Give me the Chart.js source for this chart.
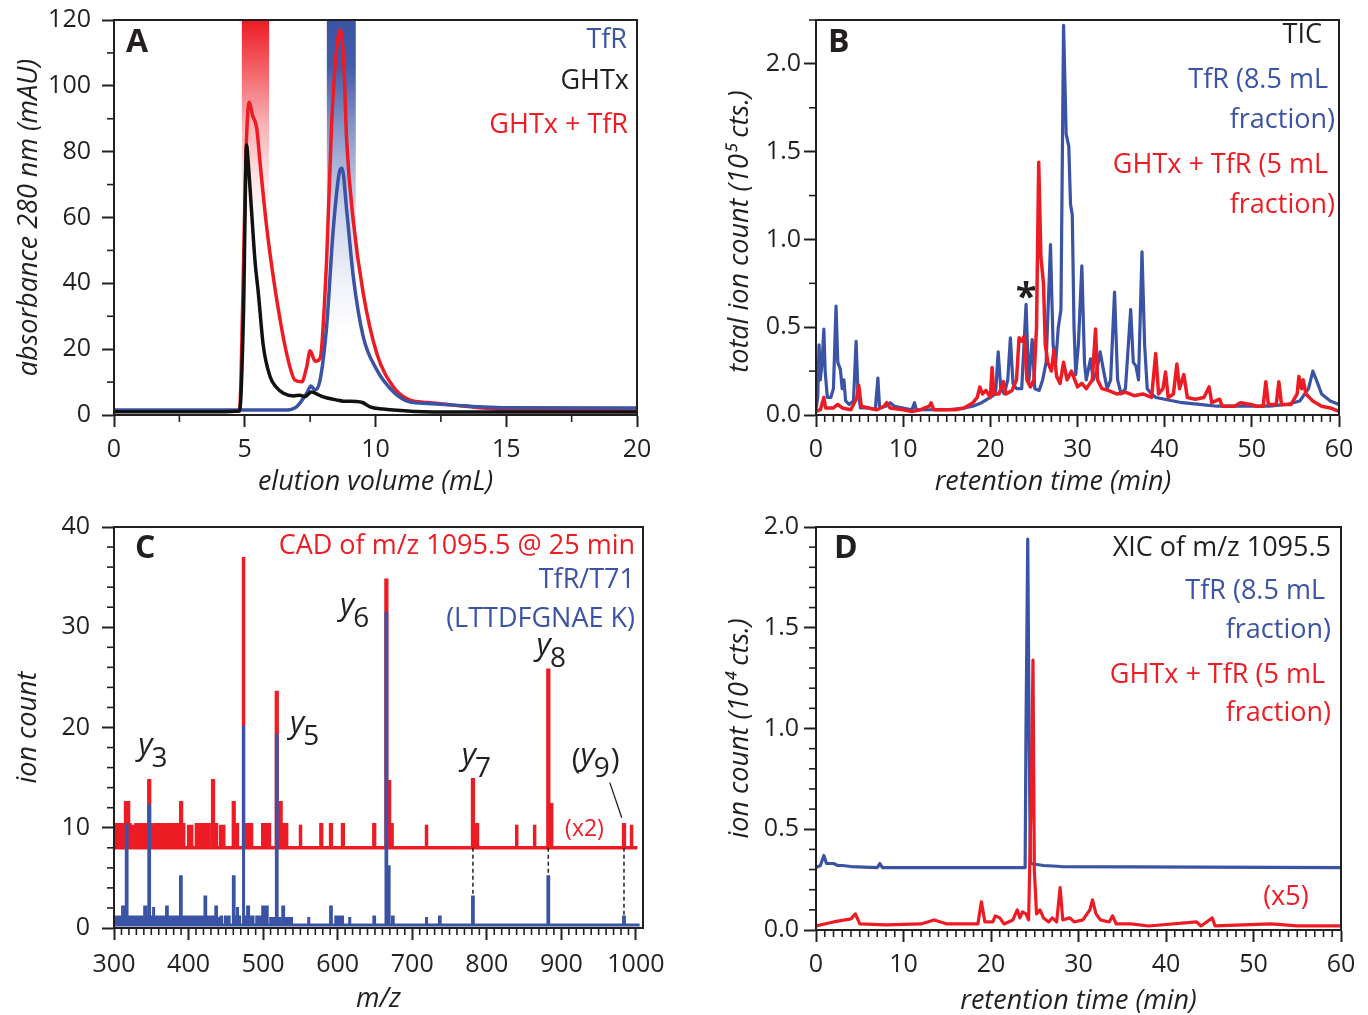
<!DOCTYPE html>
<html>
<head>
<meta charset="utf-8">
<script src="https://cdn.jsdelivr.net/npm/chart.js@4.4.1/dist/chart.umd.min.js"></script>
<style>
  html, body { margin:0; padding:0; background:#fff; }
  #fig { position:relative; width:1368px; height:1015px; overflow:hidden; background:#fff; }
  canvas { position:absolute; }
</style>
</head>
<body>
<div id="fig">
  <canvas id="cA" width="684" height="505" style="left:0;top:0"></canvas>
  <canvas id="cB" width="684" height="505" style="left:684px;top:0"></canvas>
  <canvas id="cC" width="684" height="510" style="left:0;top:505px"></canvas>
  <canvas id="cD" width="684" height="510" style="left:684px;top:505px"></canvas>
</div>
<script>
// ================= DATA =================
// ---- Panel A: elution profiles (x: elution volume mL, y: absorbance 280 nm mAU)
const elutionTicks = [0, 5, 10, 15, 20];
const absorbanceTicks = [0, 20, 40, 60, 80, 100, 120];
const ghtxUV = [[0,1.0],[4.0,1.0],[4.8,1.2],[4.95,30],[5.07,82],[5.13,77],[5.26,62],[5.39,47],[5.52,37],[5.71,21],[5.97,11.6],[6.2,8.5],[6.48,6.6],[6.86,5.8],[7.1,6.0],[7.3,5.6],[7.55,7.0],[7.8,6.2],[8.0,5.5],[8.5,4.6],[8.77,4.2],[9.27,4.1],[9.5,3.8],[9.79,2.5],[10.3,1.8],[10.68,1.5],[11.5,1.1],[13,0.9],[20,0.9]];
const tfrUV = [[0,1.5],[6.5,1.5],[6.98,2.5],[7.37,6.6],[7.53,8.8],[7.69,7.6],[7.88,10.6],[8.13,26.8],[8.39,57],[8.64,74.4],[8.72,75],[8.9,62],[9.15,42],[9.53,23.8],[10.05,13.7],[10.68,7.1],[11.3,4.0],[12,3.5],[13,3.0],[14,2.5],[15,2.2],[20,2.1]];
const mixUV = [[0,1.2],[4.8,1.2],[4.93,37],[5.05,80],[5.17,95],[5.3,91],[5.46,87],[5.58,77],[5.84,57],[6.09,42],[6.35,29],[6.6,18.7],[6.92,10.6],[7.18,10.1],[7.37,14.7],[7.5,19.5],[7.69,16.3],[7.88,17.2],[8.13,47],[8.32,88],[8.5,110],[8.65,117],[8.78,108],[8.9,83],[9.15,59],[9.53,37],[10.05,18.7],[10.68,8.6],[11.3,4.6],[12,3.8],[13,3.0],[14,2.2],[15,1.7],[17,1.4],[20,1.2]];
const mixFraction = [4.88, 5.94];   // collected GHTx + TfR fraction (mL)
const tfrFraction = [8.13, 9.25];   // collected TfR fraction (mL)

// ---- Panel B: total ion chromatograms (x: min, y: 10^5 counts)
const timeTicks = [0, 10, 20, 30, 40, 50, 60];
const ticTicks = [0, 0.5, 1.0, 1.5, 2.0];
const tfrTIC = [[0,0.03],[0.2,0.1],[0.35,0.4],[0.5,0.2],[0.7,0.3],[0.9,0.49],[1.05,0.25],[1.3,0.1],[1.7,0.1],[2.0,0.15],[2.3,0.62],[2.5,0.3],[2.8,0.26],[3.0,0.15],[3.2,0.2],[3.4,0.08],[3.8,0.06],[4.3,0.08],[4.6,0.42],[4.8,0.15],[5.1,0.04],[6,0.04],[6.8,0.03],[7.1,0.21],[7.3,0.04],[8.0,0.05],[8.5,0.07],[9.0,0.05],[10,0.04],[11,0.03],[11.3,0.07],[11.5,0.03],[13,0.03],[15,0.03],[17,0.04],[18,0.05],[19,0.07],[20,0.1],[20.6,0.12],[20.9,0.36],[21.2,0.15],[21.6,0.12],[22.0,0.2],[22.3,0.44],[22.6,0.18],[23.0,0.15],[23.6,0.15],[24.1,0.63],[24.4,0.18],[24.8,0.43],[25.1,0.15],[25.6,0.14],[26.0,0.2],[26.4,0.3],[26.9,0.97],[27.2,0.4],[27.5,0.3],[27.8,0.5],[28.1,0.6],[28.4,2.22],[28.7,1.6],[29.0,1.53],[29.2,1.2],[29.4,1.14],[29.6,0.5],[29.8,0.23],[30.1,0.4],[30.5,0.85],[30.8,0.3],[31.0,0.2],[31.5,0.32],[31.8,0.2],[32.2,0.25],[32.6,0.36],[33.0,0.25],[33.4,0.15],[33.8,0.2],[34.25,0.70],[34.6,0.2],[35.0,0.12],[35.5,0.15],[36.1,0.60],[36.4,0.3],[36.7,0.28],[37.0,0.2],[37.4,0.93],[37.7,0.4],[38.0,0.15],[38.5,0.12],[39,0.1],[40,0.09],[41,0.08],[42,0.07],[44,0.06],[46,0.05],[48,0.05],[50,0.05],[52,0.05],[54,0.06],[55.5,0.08],[56.5,0.15],[57.0,0.25],[57.4,0.2],[58,0.12],[59,0.08],[60,0.06]];
const mixTIC = [[0,0.02],[0.5,0.03],[0.9,0.1],[1.1,0.04],[2.0,0.04],[2.5,0.06],[3,0.04],[4,0.03],[4.7,0.1],[4.9,0.17],[5.2,0.05],[6,0.04],[7,0.03],[7.8,0.05],[8.1,0.07],[8.5,0.04],[10,0.03],[11,0.02],[12,0.03],[13,0.05],[13.2,0.07],[13.5,0.03],[15,0.03],[16,0.03],[17,0.04],[18.0,0.07],[18.5,0.1],[18.8,0.16],[19.1,0.12],[19.5,0.14],[20.0,0.1],[20.2,0.27],[20.4,0.12],[21.0,0.12],[21.5,0.19],[21.8,0.12],[22.5,0.14],[23.0,0.2],[23.3,0.44],[23.6,0.42],[23.9,0.45],[24.2,0.2],[24.6,0.16],[25.0,0.2],[25.3,0.5],[25.55,1.44],[25.8,0.9],[26.1,0.75],[26.3,0.4],[26.6,0.3],[27.0,0.25],[27.3,0.37],[27.6,0.22],[28.0,0.18],[28.4,0.3],[28.8,0.2],[29.3,0.25],[30,0.16],[30.5,0.18],[31,0.15],[31.7,0.2],[32.07,0.49],[32.3,0.2],[32.8,0.15],[33.5,0.14],[34.5,0.12],[35.5,0.13],[36.5,0.11],[37.5,0.12],[38.5,0.1],[38.97,0.35],[39.3,0.12],[39.8,0.15],[40.1,0.245],[40.4,0.1],[41.0,0.12],[41.4,0.29],[41.7,0.15],[42.2,0.23],[42.6,0.1],[43.5,0.09],[44.5,0.1],[45.1,0.16],[45.4,0.07],[46.3,0.09],[46.6,0.05],[48,0.05],[48.7,0.07],[49.9,0.06],[50.5,0.05],[51.3,0.05],[51.6,0.19],[51.9,0.06],[52.8,0.06],[53.1,0.19],[53.4,0.06],[54.5,0.06],[55.2,0.12],[55.4,0.22],[55.7,0.15],[55.9,0.2],[56.2,0.12],[57,0.08],[58,0.05],[59,0.04],[60,0.02]];
const starredPeak = [24.1, 0.6];     // "*" marker position (min, 10^5 cts)

// ---- Panel C: CAD spectra (x: m/z, y: ion count)
const mzTicks = [300, 400, 500, 600, 700, 800, 900, 1000];
const ionTicks = [0, 10, 20, 30, 40];
const mixOffset = 8;     // GHTx + TfR spectrum (x2) baseline
const tfrOffset = 0.3;   // TfR/T71 spectrum baseline
const mixSpectrum = [[300.8,10.3],[304,10.3],[308,10.3],[312,10.3],[316,12.5],[319,12.5],[321,10.3],[326,10.3],[330,10.3],[333,10.3],[336,10.3],[339,10.3],[342,10.3],[347.2,14.7],[350,10.3],[353,10.3],[356,10.3],[359,10.3],[362,10.3],[366,10.3],[369,10.3],[372,10.3],[376,10.3],[379,10.3],[383,10.3],[386,10.3],[390,12.5],[393,10.3],[400,10.3],[404,10.3],[411,10.3],[415,10.3],[419,10.3],[423,10.3],[427,10.3],[432.8,14.7],[437,10.3],[443,10.3],[447,10.3],[460.6,12.5],[465,10.3],[473.6,37.0],[476,10.3],[481,10.3],[484,10.3],[500,10.3],[504,10.3],[508,10.3],[518.3,23.5],[523.5,12.5],[527,10.3],[531,10.3],[550,10.3],[578,10.3],[591,10.3],[607,10.3],[649,10.3],[665.3,34.7],[669,14.6],[672.5,10.3],[719,10.3],[781.4,14.8],[787,10.3],[840,10.3],[864,10.3],[882.5,25.7],[886.5,12.3],[984,10.3],[994,10.3]];
const tfrSpectrum = [[301,1.1],[305,1.1],[309,1.1],[312,2.1],[317,10.3],[320.5,1.1],[324,1.1],[328,1.1],[332,1.1],[336,1.1],[340,1.1],[342,2.1],[344,1.1],[347.2,12.2],[350,1.1],[353,2.1],[356,1.1],[360,1.1],[364,1.1],[368,1.1],[371,2.1],[374,1.1],[378,1.1],[382,1.1],[386,1.1],[389.7,5.1],[394,1.1],[398,1.1],[402,1.1],[406,1.1],[410,1.1],[414,1.1],[418,1.1],[422.5,3.1],[426,1.1],[430,1.1],[434,1.1],[437,2.1],[440,1.1],[444,1.1],[450,1.1],[454,1.1],[460.6,5.1],[464,1.1],[465.5,2.1],[468,1.1],[473.6,20.2],[478,1.1],[480,2.1],[482,1.1],[486,1.1],[492,1.1],[496,1.1],[500,2.1],[505,2.1],[510,1.1],[514,1.1],[518.3,19.2],[522,1.1],[526,1.1],[527,2.1],[530,1.1],[534,1.1],[538,1.1],[561,1.1],[591,2.1],[598,1.1],[602,1.1],[606,1.1],[616,1.1],[649,1.1],[665.3,31.4],[668.5,6.1],[674,1.1],[719,1.1],[737,1.1],[781.4,3.1],[882.5,5.1],[984,1.1]];
const matchedMz = [781.4, 882.5, 984];   // y7, y8, y9 matched between spectra
const matchedTfr = [3.1, 5.1, 1.1];
const ionNames = ['3', '5', '6', '7', '8', '9'];
const ionLabelAt = [[332.6,17.3],[536,19.5],[603,31.2],[766.3,16.3],[866.8,27.2],[913.8,16.3]];
const ionParen = [false, false, false, false, false, true];
const y9Leader = [[965,14.5],[981,11.0]];
const x2LabelAt = [931, 9.8];

// ---- Panel D: extracted ion chromatograms (x: min, y: 10^4 counts)
const xicTicks = [0, 0.5, 1.0, 1.5, 2.0];
const tfrXIC = [[0,0.31],[0.5,0.32],[0.9,0.37],[1.2,0.33],[2,0.33],[2.5,0.32],[3,0.32],[4,0.315],[7,0.31],[7.3,0.33],[7.6,0.31],[10,0.31],[23.9,0.31],[24.0,1.0],[24.2,1.94],[24.35,1.0],[24.5,0.33],[26,0.32],[28,0.315],[60,0.31]];
const mixXIC = [[0,0.02],[2,0.04],[4,0.055],[4.5,0.08],[5,0.03],[8,0.025],[12,0.03],[13.5,0.05],[15,0.03],[18.5,0.03],[18.9,0.14],[19.3,0.04],[20.2,0.04],[20.5,0.07],[21.0,0.06],[21.5,0.03],[22.5,0.05],[23.0,0.1],[23.3,0.06],[23.6,0.09],[24.0,0.08],[24.3,0.05],[24.65,0.8],[24.8,1.34],[24.95,0.3],[25.2,0.08],[25.6,0.1],[26,0.06],[26.6,0.04],[27,0.06],[27.5,0.04],[27.9,0.21],[28.2,0.05],[29,0.06],[29.5,0.04],[30.5,0.05],[31.3,0.1],[31.6,0.15],[32.0,0.08],[32.5,0.05],[33.5,0.04],[33.9,0.07],[34.3,0.03],[36,0.03],[38,0.02],[43.5,0.04],[44,0.02],[45.3,0.06],[45.6,0.02],[52,0.03],[55,0.02],[60,0.02]];
const x5LabelAt = [53.7, 0.164];

// ================= RENDERING =================
const FONT = "'Open Sans', 'Noto Sans', sans-serif";
Chart.defaults.font.family = FONT;
Chart.defaults.color = '#231f20';
const RED = '#ed1c24', BLUE = '#3a53a4', INK = '#231f20';

const pts = arr => arr.map(([x, y]) => ({x, y}));

function sticks(spec, base, from, to, half) {
  const s = spec.slice().sort((a, b) => a[0] - b[0]);
  const out = [{x: from, y: base}];
  s.forEach(([m, h]) => {
    out.push({x: m - half, y: base}, {x: m - half, y: h}, {x: m + half, y: h}, {x: m + half, y: base});
  });
  out.push({x: to, y: base});
  return out;
}

function axis(o) {
  const left = o.pos === 'left';
  return {
    type: 'linear', position: o.pos, min: o.min, max: o.max,
    afterBuildTicks: s => { s.ticks = o.ticks.map(v => ({value: v})); },
    afterFit: s => { if (left) s.width = o.size; else s.height = o.size; },
    ticks: { font: {size: 25, lineHeight: left ? 0.5 : 1.2}, color: INK, padding: o.tpad, autoSkip: false, maxRotation: 0,
             callback: o.fmt || (v => String(v)) },
    grid: { drawOnChartArea: false, drawTicks: true, tickLength: 12, tickWidth: 2, tickColor: INK },
    border: { display: true, color: INK, width: 2 },
    title: { display: true, text: o.title, color: INK, font: {size: 27, style: 'italic'},
             padding: left ? {top: o.titlePad, bottom: 0} : {top: 0, bottom: o.titlePad} }
  };
}

function framePlugin(minor) {
  return {
    id: 'frame',
    afterDraw(chart) {
      const {ctx, chartArea: a} = chart;
      const sx = chart.scales.x, sy = chart.scales.y;
      ctx.save();
      ctx.strokeStyle = INK; ctx.lineWidth = 2;
      ctx.strokeRect(a.left, a.top, a.right - a.left, a.bottom - a.top);
      ctx.lineWidth = 1.6;
      const isMajor = (scale, v, step) => scale.ticks.some(t => Math.abs(t.value - v) < step * 0.01);
      for (let k = Math.ceil(sx.min / minor.x); k * minor.x <= sx.max + 1e-9; k++) {
        const v = k * minor.x;
        if (isMajor(sx, v, minor.x)) continue;
        const p = sx.getPixelForValue(v);
        ctx.beginPath(); ctx.moveTo(p, a.bottom); ctx.lineTo(p, a.bottom + 7); ctx.stroke();
      }
      for (let k = Math.ceil(sy.min / minor.y); k * minor.y <= sy.max + 1e-9; k++) {
        const v = k * minor.y;
        if (isMajor(sy, v, minor.y)) continue;
        const p = sy.getPixelForValue(v);
        ctx.beginPath(); ctx.moveTo(a.left, p); ctx.lineTo(a.left - 7, p); ctx.stroke();
      }
      ctx.restore();
    }
  };
}

function textPlugin(items) {
  return {
    id: 'annot',
    afterDraw(chart) {
      const ctx = chart.ctx;
      ctx.save();
      items.forEach(it => {
        ctx.font = (it.font || '27px') + ' ' + FONT;
        ctx.fillStyle = it.color || INK;
        ctx.textAlign = it.align || 'right';
        ctx.textBaseline = it.baseline || 'middle';
        let px = it.px, py = it.py;
        if (it.at) { px = chart.scales.x.getPixelForValue(it.at[0]); py = chart.scales.y.getPixelForValue(it.at[1]); }
        ctx.fillText(it.text, px, py);
      });
      ctx.restore();
    }
  };
}

function ionPlugin(o) {
  return {
    id: 'ions',
    afterDraw(chart) {
      if (!o) return;
      const ctx = chart.ctx, sx = chart.scales.x, sy = chart.scales.y;
      ctx.save();
      ctx.fillStyle = INK; ctx.textBaseline = 'alphabetic'; ctx.textAlign = 'left';
      o.names.forEach((n, i) => {
        let x = sx.getPixelForValue(o.at[i][0]);
        const y = sy.getPixelForValue(o.at[i][1]);
        if (o.paren[i]) { ctx.font = '30px ' + FONT; ctx.fillText('(', x, y + 4); x += ctx.measureText('(').width; }
        ctx.font = 'italic 31px ' + FONT; ctx.fillText('y', x, y); x += ctx.measureText('y').width - 1;
        ctx.font = '28px ' + FONT; ctx.fillText(n, x, y + 12); x += ctx.measureText(n).width;
        if (o.paren[i]) { ctx.font = '30px ' + FONT; ctx.fillText(')', x + 1, y + 4); }
      });
      if (o.leader) {
        ctx.strokeStyle = INK; ctx.lineWidth = 1.3;
        ctx.beginPath();
        ctx.moveTo(sx.getPixelForValue(o.leader[0][0]), sy.getPixelForValue(o.leader[0][1]));
        ctx.lineTo(sx.getPixelForValue(o.leader[1][0]), sy.getPixelForValue(o.leader[1][1]));
        ctx.stroke();
      }
      ctx.restore();
    }
  };
}

function bandFill(rgb, top, bottom, stops) {
  return c => {
    const ch = c.chart;
    if (!ch.chartArea) return 'rgba(0,0,0,0)';
    const y = ch.scales.y;
    const g = ch.ctx.createLinearGradient(0, y.getPixelForValue(top), 0, y.getPixelForValue(bottom));
    stops.forEach(([off, al]) => g.addColorStop(off, 'rgba(' + rgb + ',' + al + ')'));
    return g;
  };
}

function makeChart(id, o) {
  return new Chart(document.getElementById(id), {
    type: 'line',
    data: { datasets: o.datasets },
    options: {
      responsive: false, animation: false, events: [],
      layout: { padding: o.padding },
      scales: { x: axis(o.x), y: axis(o.y) },
      elements: { point: {radius: 0}, line: {tension: 0, borderJoinStyle: 'round', borderCapStyle: 'butt'} },
      plugins: { legend: {display: false}, tooltip: {enabled: false} }
    },
    plugins: [framePlugin(o.minor), textPlugin(o.items), ionPlugin(o.ions)]
  });
}

const fmt1 = v => v.toFixed(1);

// ---- Panel A
makeChart('cA', {
  padding: {left: 0, right: 47, top: 20, bottom: 0},
  x: {pos: 'bottom', min: 0, max: 20, ticks: elutionTicks, size: 90, tpad: 8, title: 'elution volume (mL)', titlePad: 6},
  y: {pos: 'left', min: 0, max: 120, ticks: absorbanceTicks, size: 114, tpad: 11, title: 'absorbance 280 nm (mAU)', titlePad: 13},
  minor: {x: 2.5, y: 10},
  datasets: [
    {data: pts(ghtxUV), borderColor: '#111', borderWidth: 3.5, cubicInterpolationMode: 'monotone'},
    {data: pts(tfrUV), borderColor: BLUE, borderWidth: 3.5, cubicInterpolationMode: 'monotone'},
    {data: pts(mixUV), borderColor: RED, borderWidth: 3.5, cubicInterpolationMode: 'monotone'},
    {data: pts([[tfrFraction[0], 120], [tfrFraction[1], 120]]), borderWidth: 0, fill: 'origin',
     backgroundColor: bandFill('58,83,164', 120, 25, [[0,1],[0.15,0.95],[0.35,0.6],[0.6,0.25],[0.85,0.07],[1,0]])},
    {data: pts([[mixFraction[0], 120], [mixFraction[1], 120]]), borderWidth: 0, fill: 'origin',
     backgroundColor: bandFill('237,28,36', 120, 58, [[0,1],[0.2,0.75],[0.5,0.35],[0.8,0.1],[1,0]])}
  ],
  items: [
    {text: 'A', px: 126, py: 43, font: 'bold 32px', align: 'left'},
    {text: 'TfR', px: 627, py: 40, color: BLUE},
    {text: 'GHTx', px: 629, py: 81, color: INK},
    {text: 'GHTx + TfR', px: 628, py: 125, color: RED}
  ]
});

// ---- Panel B
makeChart('cB', {
  padding: {left: 0, right: 29, top: 20, bottom: 0},
  x: {pos: 'bottom', min: 0, max: 60, ticks: timeTicks, size: 90, tpad: 8, title: 'retention time (min)\u00a0\u00a0\u00a0\u00a0\u00a0\u00a0\u00a0', titlePad: 6},
  y: {pos: 'left', min: 0, max: 2.25, ticks: ticTicks, size: 132, tpad: 3, fmt: fmt1, title: 'total ion count (10\u2075 cts.)\u00a0\u00a0\u00a0\u00a0', titlePad: 40},
  minor: {x: 1, y: 0.25},
  datasets: [
    {data: pts(mixTIC), borderColor: RED, borderWidth: 3.5},
    {data: pts(tfrTIC), borderColor: BLUE, borderWidth: 3.2}
  ],
  items: [
    {text: 'B', px: 144, py: 43, font: 'bold 32px', align: 'left'},
    {text: 'TIC', px: 638, py: 35, color: INK},
    {text: 'TfR (8.5 mL', px: 644, py: 80, color: BLUE},
    {text: 'fraction)', px: 651, py: 120, color: BLUE},
    {text: 'GHTx + TfR (5 mL', px: 644, py: 165, color: RED},
    {text: 'fraction)', px: 651, py: 205, color: RED},
    {text: '*', at: starredPeak, font: 'bold 38px', align: 'center', baseline: 'alphabetic', color: INK}
  ]
});

// ---- Panel C
makeChart('cC', {
  padding: {left: 0, right: 41, top: 22, bottom: 0},
  x: {pos: 'bottom', min: 300, max: 1009.5, ticks: mzTicks, size: 87, tpad: 10, title: 'm/z', titlePad: -1},
  y: {pos: 'left', min: 0, max: 40, ticks: ionTicks, size: 114, tpad: 12, title: 'ion count', titlePad: 12},
  minor: {x: 10, y: 2},
  datasets: [
    {data: sticks(tfrSpectrum, tfrOffset, 300, 1005, 0.5), borderColor: BLUE, borderWidth: 3, borderJoinStyle: 'miter'},
    {data: matchedMz.flatMap((m, i) => [{x: m, y: mixOffset}, {x: m, y: matchedTfr[i]}, {x: m, y: null}]),
     borderColor: INK, borderWidth: 1.5, borderDash: [4, 3], spanGaps: false},
    {data: sticks(mixSpectrum, mixOffset, 300, 1002, 0.5), borderColor: RED, borderWidth: 3.5, borderJoinStyle: 'miter'}
  ],
  items: [
    {text: 'C', px: 135, py: 44, font: 'bold 32px', align: 'left'},
    {text: 'CAD of m/z 1095.5 @ 25 min', px: 635, py: 41, color: RED},
    {text: 'TfR/T71', px: 635, py: 75, color: BLUE},
    {text: '(LTTDFGNAE K)', px: 635, py: 114, color: BLUE},
    {text: '(x2)', at: x2LabelAt, font: '23px', align: 'center', color: RED}
  ],
  ions: {names: ionNames, at: ionLabelAt, paren: ionParen, leader: y9Leader}
});

// ---- Panel D
makeChart('cD', {
  padding: {left: 0, right: 27, top: 22, bottom: 0},
  x: {pos: 'bottom', min: 0, max: 60, ticks: timeTicks, size: 85, tpad: 8, title: 'retention time (min)', titlePad: -3},
  y: {pos: 'left', min: 0, max: 2.0, ticks: xicTicks, size: 132, tpad: 5, fmt: fmt1, title: 'ion count (10\u2074 cts.)', titlePad: 40},
  minor: {x: 1, y: 0.1},
  datasets: [
    {data: pts(mixXIC), borderColor: RED, borderWidth: 3.2},
    {data: pts(tfrXIC), borderColor: BLUE, borderWidth: 3.2}
  ],
  items: [
    {text: 'D', px: 150, py: 44, font: 'bold 32px', align: 'left'},
    {text: 'XIC of m/z 1095.5', px: 647, py: 43, color: INK},
    {text: 'TfR (8.5 mL', px: 641, py: 86, color: BLUE},
    {text: 'fraction)', px: 647, py: 125, color: BLUE},
    {text: 'GHTx + TfR (5 mL', px: 641, py: 170, color: RED},
    {text: 'fraction)', px: 647, py: 208, color: RED},
    {text: '(x5)', at: x5LabelAt, font: '27px', align: 'center', color: RED}
  ]
});
</script>
</body>
</html>
